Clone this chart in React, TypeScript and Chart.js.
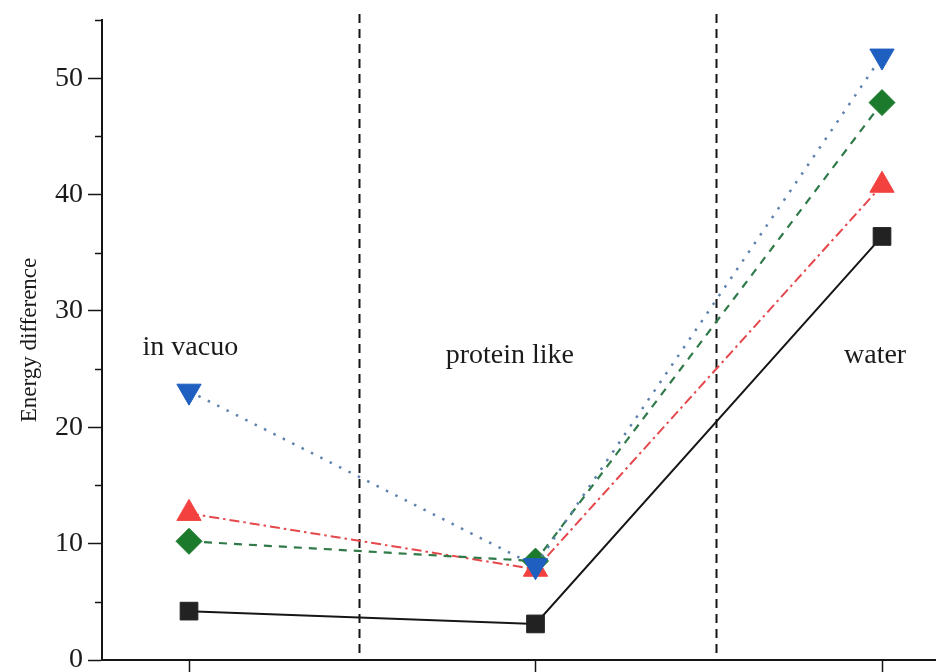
import React, { useEffect, useRef } from 'react';
import { Chart, registerables } from 'chart.js';

Chart.register(...registerables);

// Environments along the x axis and their positions
const categories = ['in vacuo', 'protein like', 'water'];
const categoryX = [0, 1, 2];

// Energy difference per environment, one list per series
const blackSeries = [4.2, 3.1, 36.4];
const redSeries = [12.6, 7.8, 40.8];
const greenSeries = [10.2, 8.5, 47.9];
const blueSeries = [23.1, 8.1, 51.9];

// Axis ranges
const xMin = -0.2511;
const xMax = 2.1558;
const yMin = 0;
const yMax = 55;
const yStep = 5;

// Vertical separators between the environments
const dividerX = [0.49, 1.52];

// Environment captions, placed in data coordinates
const labelX = [0.004, 0.926, 1.98];
const labelY = [26.2, 25.5, 25.5];

const FONT = "'Liberation Serif', 'Times New Roman', Times, serif";

const toPoints = (vals: number[]) => vals.map((v, i) => ({ x: categoryX[i], y: v }));

const overlayPlugin = {
  id: 'overlay',
  beforeDatasetsDraw(chart: any) {
    const { ctx, chartArea, scales } = chart;
    const x = scales.x;
    ctx.save();
    ctx.strokeStyle = '#151515';
    ctx.lineWidth = 2;
    ctx.setLineDash([9, 6]);
    dividerX.forEach((v) => {
      const px = Math.round(x.getPixelForValue(v)) + 0.5;
      ctx.beginPath();
      ctx.moveTo(px, chartArea.top - 6);
      ctx.lineTo(px, chartArea.bottom);
      ctx.stroke();
    });
    ctx.restore();
  },
  afterDraw(chart: any) {
    const { ctx, chartArea, scales } = chart;
    const x = scales.x;
    const y = scales.y;
    ctx.save();
    // minor ticks on the y axis
    ctx.strokeStyle = '#151515';
    ctx.lineWidth = 1.5;
    y.ticks.forEach((t: any) => {
      if (t.value % 10 !== 0) {
        const py = Math.round(y.getPixelForValue(t.value)) + 0.5;
        ctx.beginPath();
        ctx.moveTo(chartArea.left - 7, py);
        ctx.lineTo(chartArea.left, py);
        ctx.stroke();
      }
    });
    // environment captions
    ctx.fillStyle = '#1a1a1a';
    ctx.font = `28px ${FONT}`;
    ctx.textAlign = 'center';
    ctx.textBaseline = 'alphabetic';
    categories.forEach((c, i) => {
      ctx.fillText(c, x.getPixelForValue(labelX[i]), y.getPixelForValue(labelY[i]));
    });
    ctx.restore();
  },
};

export default function App() {
  const canvasRef = useRef<HTMLCanvasElement | null>(null);

  useEffect(() => {
    const canvas = canvasRef.current;
    if (!canvas) return;

    const marker = {
      pointBorderWidth: 1,
      pointHoverRadius: 0,
    };

    const chart = new Chart(canvas, {
      type: 'line',
      data: {
        datasets: [
          {
            label: 'blue',
            data: toPoints(blueSeries),
            borderColor: '#5f82ad',
            borderWidth: 2.5,
            borderDash: [2.5, 8],
            pointStyle: 'triangle',
            rotation: 180,
            pointRadius: 14,
            pointBackgroundColor: '#1f5fc0',
            pointBorderColor: '#1f5fc0',
            order: 0,
            clip: false,
            ...marker,
          },
          {
            label: 'green',
            data: toPoints(greenSeries),
            borderColor: '#2f7a48',
            borderWidth: 2.2,
            borderDash: [8, 7],
            pointStyle: 'rectRot',
            pointRadius: 13,
            pointBackgroundColor: '#1c7a2c',
            pointBorderColor: '#1c7a2c',
            order: 1,
            clip: false,
            ...marker,
          },
          {
            label: 'red',
            data: toPoints(redSeries),
            borderColor: '#e5484c',
            borderWidth: 2,
            borderDash: [10, 4, 2.5, 4],
            pointStyle: 'triangle',
            pointRadius: 14,
            pointBackgroundColor: '#f2413f',
            pointBorderColor: '#f2413f',
            order: 2,
            clip: false,
            ...marker,
          },
          {
            label: 'black',
            data: toPoints(blackSeries),
            borderColor: '#161616',
            borderWidth: 2,
            pointStyle: 'rect',
            pointRadius: 12.5,
            pointBackgroundColor: '#222222',
            pointBorderColor: '#222222',
            order: 3,
            clip: false,
            ...marker,
          },
        ],
      },
      options: {
        responsive: false,
        animation: false,
        events: [],
        layout: { autoPadding: false, padding: { top: 20, right: 0, bottom: 0, left: 0 } },
        plugins: {
          legend: { display: false },
          tooltip: { enabled: false },
        },
        scales: {
          x: {
            type: 'linear',
            min: xMin,
            max: xMax,
            afterBuildTicks: (scale: any) => {
              scale.ticks = categoryX.map((v) => ({ value: v }));
            },
            afterFit: (scale: any) => {
              scale.height = 12;
            },
            ticks: { display: false },
            grid: {
              drawOnChartArea: false,
              drawTicks: true,
              tickLength: 12,
              tickColor: '#151515',
              tickWidth: 1.5,
            },
            border: { display: true, color: '#151515', width: 2 },
          },
          y: {
            type: 'linear',
            min: yMin,
            max: yMax,
            afterFit: (scale: any) => {
              scale.width = 102;
            },
            ticks: {
              stepSize: yStep,
              autoSkip: false,
              padding: 5,
              color: '#1a1a1a',
              font: { family: FONT, size: 28, lineHeight: 0.4 },
              callback: (v: any) => (Number(v) % 10 === 0 ? String(v) : ''),
            },
            grid: {
              drawOnChartArea: false,
              drawTicks: true,
              tickLength: 14,
              tickWidth: 1.5,
              tickColor: (ctx: any) =>
                ctx.tick && ctx.tick.value % 10 === 0 ? '#151515' : 'rgba(0,0,0,0)',
            },
            border: { display: true, color: '#151515', width: 2 },
            title: {
              display: true,
              text: 'Energy difference',
              color: '#1a1a1a',
              font: { family: FONT, size: 23 },
              padding: { top: 16, bottom: 0 },
            },
          },
        },
      },
      plugins: [overlayPlugin],
    } as any);

    return () => {
      chart.destroy();
    };
  }, []);

  return (
    <div style={{ position: 'fixed', left: 0, top: 0, width: 936, height: 672, background: '#fff' }}>
      <canvas ref={canvasRef} width={936} height={672} style={{ display: 'block' }} />
    </div>
  );
}
